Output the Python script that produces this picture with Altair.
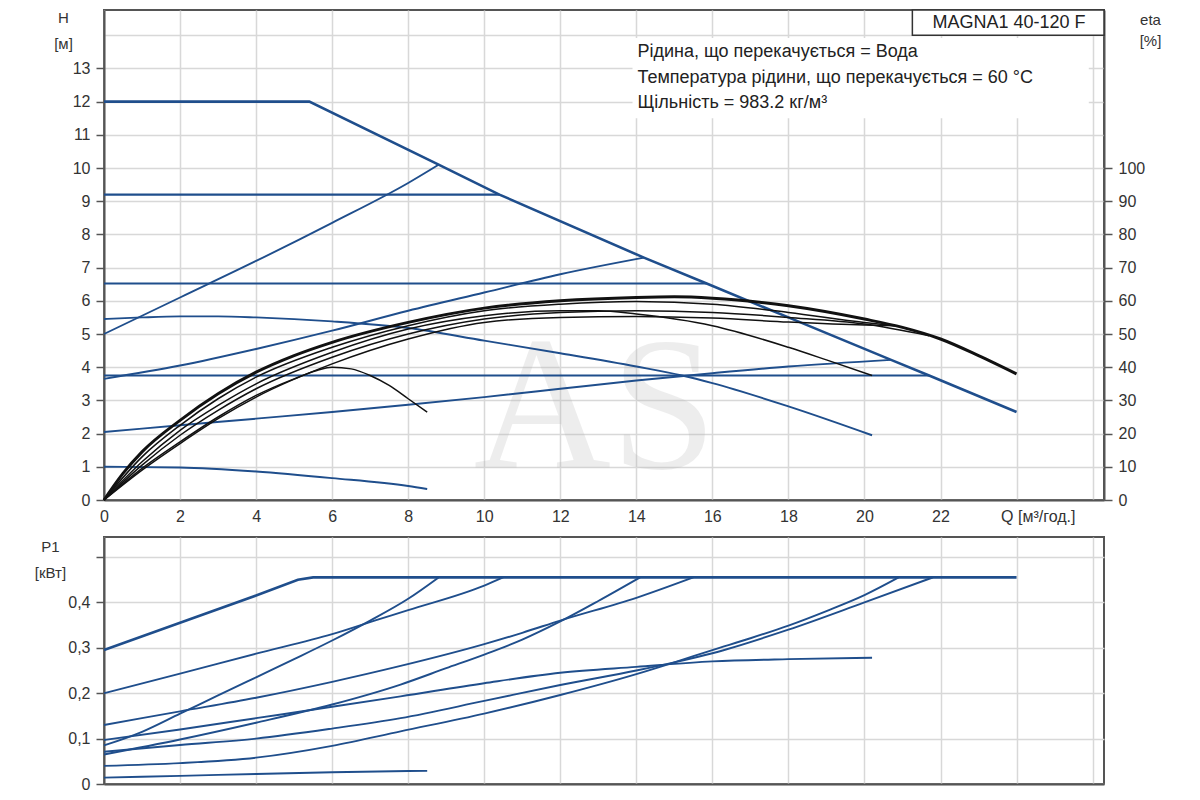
import altair as alt
import pandas as pd

BLUE = "#1f4e8c"
BLACK = "#111111"

# ---------------- Q-H curves (blue), H in m ----------------
Q_MAX = [0, 5.4, 8.8, 10.4, 14.2, 15.85, 18, 20.7, 21.7, 24]
H_MAX = [12, 12, 10.1, 9.2, 7.3, 6.52, 5.5, 4.22, 3.75, 2.65]
Q_C92 = [0, 10.4]
H_C92 = [9.2, 9.2]
Q_C65 = [0, 15.85]
H_C65 = [6.52, 6.52]
Q_C375 = [0, 21.7]
H_C375 = [3.75, 3.75]
Q_PP1 = [0, 2, 4, 6, 8, 8.8]
H_PP1 = [5.0, 6.1, 7.2, 8.35, 9.55, 10.1]
Q_PP2 = [0, 2, 4, 6, 8, 10, 12, 14.2]
H_PP2 = [3.65, 4.05, 4.55, 5.1, 5.7, 6.25, 6.8, 7.3]
Q_PP3 = [0, 2, 4, 6, 8, 10, 12, 14, 16, 18, 20.7]
H_PP3 = [2.05, 2.25, 2.45, 2.65, 2.87, 3.1, 3.35, 3.6, 3.82, 4.02, 4.22]
Q_K545 = [0, 1, 2, 3, 4, 6, 8, 10, 12, 14, 15.2, 16, 18, 20.2]
H_K545 = [5.45, 5.5, 5.53, 5.53, 5.5, 5.38, 5.18, 4.8, 4.42, 4.02, 3.75, 3.52, 2.82, 1.95]
Q_K10 = [0, 2, 4, 6, 8, 8.5]
H_K10 = [1.0, 0.98, 0.86, 0.66, 0.42, 0.33]

# ---------------- efficiency curves (black), eta in % ----------------
Q_EMAX = [0, 0.5, 1, 2, 3, 4, 5, 6, 8, 10, 12, 14, 15, 16, 18, 20, 21, 22, 23, 24]
E_EMAX = [0, 8, 14.5, 24, 32, 38.5, 43.5, 47.5, 53.5, 57.8, 60, 61, 61.2, 60.8, 58.5, 54.5, 52, 48.5, 43.5, 38]
Q_E2 = [0, 1, 2, 3, 4, 6, 8, 10, 12, 14, 16, 18, 20, 20.8]
E_E2 = [0, 13, 22.5, 30.5, 37, 46, 52.5, 57, 59, 59.8, 59, 56.5, 53.5, 52.5]
Q_E3 = [0, 1, 2, 3, 4, 6, 8, 10, 12, 14, 16, 18, 20, 21.7]
E_E3 = [0, 10.5, 19.5, 27, 33.5, 43, 50, 54.5, 56.5, 57, 56.5, 55, 53, 49.5]
Q_E4 = [0, 1, 2, 3, 4, 6, 8, 10, 12, 14, 16, 18, 20, 20.8]
E_E4 = [0, 9, 17, 24.5, 31, 41, 48.5, 53.5, 55, 55.3, 54.8, 53.6, 52.7, 52.5]
Q_EB = [0, 1, 2, 3, 4, 6, 8, 10, 12, 13, 14, 16, 18, 19, 20.2]
E_EB = [0, 11.5, 21, 28.5, 35, 44.5, 51.5, 55.5, 57, 57, 56, 52.5, 46, 42.2, 37.5]
Q_EA = [0, 1, 2, 3, 4, 5, 5.6, 6, 6.5, 7, 7.5, 8, 8.5]
E_EA = [0, 9.5, 17.5, 25, 31.5, 36.5, 39, 40, 39.5, 37.5, 34.5, 30.5, 26.5]

# ---------------- power curves P1, kW ----------------
Q_PMAX = [0, 2, 4, 5.1, 5.5, 24]
P_PMAX = [0.295, 0.355, 0.415, 0.45, 0.455, 0.455]
Q_P92 = [0, 2, 4, 6, 7.2, 8, 10, 10.5]
P_P92 = [0.2, 0.243, 0.287, 0.33, 0.362, 0.383, 0.437, 0.455]
Q_PPP1 = [0, 1, 2, 3, 4, 5, 6, 7, 8, 8.8]
P_PPP1 = [0.085, 0.115, 0.155, 0.195, 0.235, 0.275, 0.316, 0.36, 0.408, 0.455]
Q_P65 = [0, 2, 4, 6, 7.8, 10, 11, 12, 14, 15.5]
P_P65 = [0.13, 0.16, 0.19, 0.225, 0.26, 0.308, 0.333, 0.36, 0.41, 0.455]
Q_PPP2 = [0, 2, 4, 6, 7.8, 9, 10, 11, 12, 13, 14.1]
P_PPP2 = [0.065, 0.098, 0.135, 0.175, 0.219, 0.255, 0.285, 0.318, 0.358, 0.403, 0.455]
Q_P545 = [0, 2, 4, 6, 7.8, 10, 12, 14, 16, 18, 20.2]
P_P545 = [0.097, 0.12, 0.145, 0.17, 0.193, 0.222, 0.245, 0.258, 0.27, 0.275, 0.278]
Q_P375 = [0, 2, 4, 6, 7.8, 10, 12, 14, 15, 16, 18, 20, 21.8]
P_P375 = [0.071, 0.086, 0.1, 0.122, 0.145, 0.183, 0.218, 0.25, 0.268, 0.288, 0.34, 0.4, 0.455]
Q_PPP3 = [0, 2, 4, 6, 7.8, 10, 12, 14, 15, 16, 17, 18, 19, 20, 20.9]
P_PPP3 = [0.04, 0.046, 0.058, 0.084, 0.116, 0.155, 0.196, 0.242, 0.268, 0.295, 0.321, 0.349, 0.381, 0.416, 0.455]
Q_P10 = [0, 2, 4, 6, 8.5]
P_P10 = [0.014, 0.018, 0.022, 0.026, 0.029]

# ---------------- axis ticks and texts ----------------
Q_TICKS = list(range(0, 27, 2))
H_TICKS = list(range(0, 15))
ETA_TICKS = list(range(0, 101, 10))
P_TICKS = [0, 0.1, 0.2, 0.3, 0.4, 0.5]
INFO_LINES = [
    "Рідина, що перекачується = Вода",
    "Температура рідини, що перекачується = 60 °C",
    "Щільність = 983.2 кг/м³",
]
INFO_Q = [14.03, 14.03, 14.03]
INFO_H = [13.49, 12.71, 11.96]
INFO_BOX = {"Q": [13.9], "q2": [25.9], "h1": [11.5], "h2": [13.92]}
MODEL = "MAGNA1 40-120 F"
MODEL_BOX = {"Q": [21.26], "q2": [26.3], "h1": [14.0], "h2": [14.76]}
MODEL_POS = {"Q": [23.8], "h": [14.38]}
WATERMARK = {"Q": [12.92], "h": [0.95], "t": ["AS"]}

Q_DOMAIN = [0, 26.3]
H_DOMAIN = [0, 14.76]
ETA_DOMAIN = [0, 147.6]
P_DOMAIN = [0, 0.544]


def frame(items):
    rows = []
    for name, qs, vs in items:
        for i, (q, v) in enumerate(zip(qs, vs)):
            rows.append({"curve": name, "Q": q, "v": v, "i": i})
    return pd.DataFrame(rows)


FONT = "Liberation Sans"
W, H_TOP, H_BOT = 1000, 490, 247

xscale = alt.Scale(domain=Q_DOMAIN, nice=False, zero=False)
x_top_axis = alt.Axis(
    values=Q_TICKS, title=None, grid=True, tickSize=0, labelPadding=8,
    labelExpr="datum.value == 24 ? 'Q [м³/год.]' : (datum.value == 26 ? '' : datum.label)",
    labelAlign={"condition": {"test": "datum.value == 24", "value": "left"}, "value": "center"},
    labelOffset={"condition": {"test": "datum.value == 24", "value": -16}, "value": 0},
)
x_top = lambda: alt.X("Q:Q", scale=xscale, axis=x_top_axis)

h_axis = alt.Axis(
    orient="left", values=H_TICKS, grid=True, tickSize=8, labelPadding=6,
    labelExpr="datum.value == 14 ? '' : datum.label",
    tickOpacity={"condition": {"test": "datum.value == 14", "value": 0}, "value": 1},
    title=["H", "[м]"], titleAngle=0, titleAlign="center", titleBaseline="top",
    titleX=-41, titleY=0, titleLineHeight=26,
)
hscale = alt.Scale(domain=H_DOMAIN, nice=False, zero=False)

eta_axis = alt.Axis(
    orient="right", values=ETA_TICKS, grid=False, tickSize=8, labelPadding=6,
    title=["eta", "[%]"], titleAngle=0, titleAlign="center", titleBaseline="top",
    titleX=46, titleY=2, titleLineHeight=21,
)
etascale = alt.Scale(domain=ETA_DOMAIN, nice=False, zero=False)

# watermark (behind)
wm = alt.Chart(pd.DataFrame(WATERMARK)).mark_text(
    font="Liberation Serif", fontSize=190, baseline="alphabetic", align="center",
    color="#b0b0b0", opacity=0.22, clip=True,
).encode(x=x_top(), y=alt.Y("h:Q", scale=hscale, axis=None), text="t:N")

blue_max = alt.Chart(frame([("max", Q_MAX, H_MAX)])).mark_line(color=BLUE, strokeWidth=2.6).encode(
    x=x_top(), y=alt.Y("v:Q", scale=hscale, axis=h_axis), detail="curve:N", order="i:Q")

blue_lin = alt.Chart(frame([
    ("c92", Q_C92, H_C92), ("c65", Q_C65, H_C65), ("c375", Q_C375, H_C375),
])).mark_line(color=BLUE, strokeWidth=2.1).encode(
    x=x_top(), y=alt.Y("v:Q", scale=hscale, axis=h_axis), detail="curve:N", order="i:Q")

blue_smooth = alt.Chart(frame([
    ("pp1", Q_PP1, H_PP1), ("pp2", Q_PP2, H_PP2), ("pp3", Q_PP3, H_PP3),
    ("k545", Q_K545, H_K545), ("k10", Q_K10, H_K10),
])).mark_line(color=BLUE, strokeWidth=1.9, interpolate="monotone").encode(
    x=x_top(), y=alt.Y("v:Q", scale=hscale, axis=h_axis), detail="curve:N", order="i:Q")

blue_layer = alt.layer(blue_lin, blue_smooth, blue_max)

eta_thin = alt.Chart(frame([
    ("e2", Q_E2, E_E2), ("e3", Q_E3, E_E3), ("e4", Q_E4, E_E4), ("eb", Q_EB, E_EB), ("ea", Q_EA, E_EA),
])).mark_line(color=BLACK, strokeWidth=1.5, interpolate="monotone").encode(
    x=x_top(), y=alt.Y("v:Q", scale=etascale, axis=eta_axis), detail="curve:N", order="i:Q")
eta_thick = alt.Chart(frame([("emax", Q_EMAX, E_EMAX)])).mark_line(
    color=BLACK, strokeWidth=3, interpolate="monotone").encode(
    x=x_top(), y=alt.Y("v:Q", scale=etascale, axis=eta_axis), detail="curve:N", order="i:Q")
eta_layer = alt.layer(eta_thin, eta_thick)

info_rect = alt.Chart(pd.DataFrame(INFO_BOX)).mark_rect(fill="white").encode(
    x=x_top(), x2="q2:Q", y=alt.Y("h1:Q", scale=hscale, axis=None), y2="h2:Q")
model_rect = alt.Chart(pd.DataFrame(MODEL_BOX)).mark_rect(
    fill="white", stroke="#333", strokeWidth=1.5).encode(
    x=x_top(), x2="q2:Q", y=alt.Y("h1:Q", scale=hscale, axis=None), y2="h2:Q")
info_text = alt.Chart(pd.DataFrame({"Q": INFO_Q, "h": INFO_H, "t": INFO_LINES})).mark_text(
    align="left", baseline="middle", font=FONT, fontSize=18, color="#222").encode(
    x=x_top(), y=alt.Y("h:Q", scale=hscale, axis=None), text="t:N")
model_text = alt.Chart(pd.DataFrame({"Q": MODEL_POS["Q"], "h": MODEL_POS["h"], "t": [MODEL]})).mark_text(
    align="center", baseline="middle", font=FONT, fontSize=18, color="#222").encode(
    x=x_top(), y=alt.Y("h:Q", scale=hscale, axis=None), text="t:N")
annot = alt.layer(info_rect, model_rect, info_text, model_text)

top = alt.layer(wm, blue_layer, eta_layer, annot).resolve_scale(y="independent").properties(
    width=W, height=H_TOP)

# ---------------- bottom: P1 ----------------
x_bot_axis = alt.Axis(values=Q_TICKS, title=None, grid=True, labels=False, ticks=False)
pscale = alt.Scale(domain=P_DOMAIN, nice=False, zero=False)
p_axis = alt.Axis(
    values=P_TICKS, grid=True, tickSize=8, labelPadding=6,
    labelExpr="datum.value > 0.45 ? '' : (datum.value == 0 ? '0' : replace(format(datum.value, '.1f'), '.', ','))",
    title=["P1", "[кВт]"], titleAngle=0, titleAlign="center", titleBaseline="top",
    titleX=-54, titleY=2, titleLineHeight=26,
)
p_lin = alt.Chart(frame([("pmax", Q_PMAX, P_PMAX)])).mark_line(color=BLUE, strokeWidth=2.6).encode(
    x=alt.X("Q:Q", scale=xscale, axis=x_bot_axis),
    y=alt.Y("v:Q", scale=pscale, axis=p_axis), detail="curve:N", order="i:Q")
p_smooth = alt.Chart(frame([
    ("p92", Q_P92, P_P92), ("ppp1", Q_PPP1, P_PPP1), ("p65", Q_P65, P_P65), ("ppp2", Q_PPP2, P_PPP2),
    ("p545", Q_P545, P_P545), ("p375", Q_P375, P_P375), ("ppp3", Q_PPP3, P_PPP3), ("p10", Q_P10, P_P10),
])).mark_line(color=BLUE, strokeWidth=1.9, interpolate="monotone").encode(
    x=alt.X("Q:Q", scale=xscale, axis=x_bot_axis),
    y=alt.Y("v:Q", scale=pscale, axis=p_axis), detail="curve:N", order="i:Q")
bottom = alt.layer(p_lin, p_smooth).properties(width=W, height=H_BOT)

chart = alt.vconcat(top, bottom, spacing=37).properties(
    bounds="flush", padding={"left": 25, "top": 0, "right": 5, "bottom": 0}
).configure_view(stroke="#555", strokeWidth=2).configure_axis(
    labelFont=FONT, titleFont=FONT, labelFontSize=16, titleFontSize=15,
    labelColor="#333", titleColor="#333", titleFontWeight="normal",
    domainColor="#555", domainWidth=2, tickColor="#555", tickWidth=1.5,
    gridColor="#d8d8d8", gridWidth=1.5,
)

chart.save("out.html", embed_options={"renderer": "svg", "actions": False})
